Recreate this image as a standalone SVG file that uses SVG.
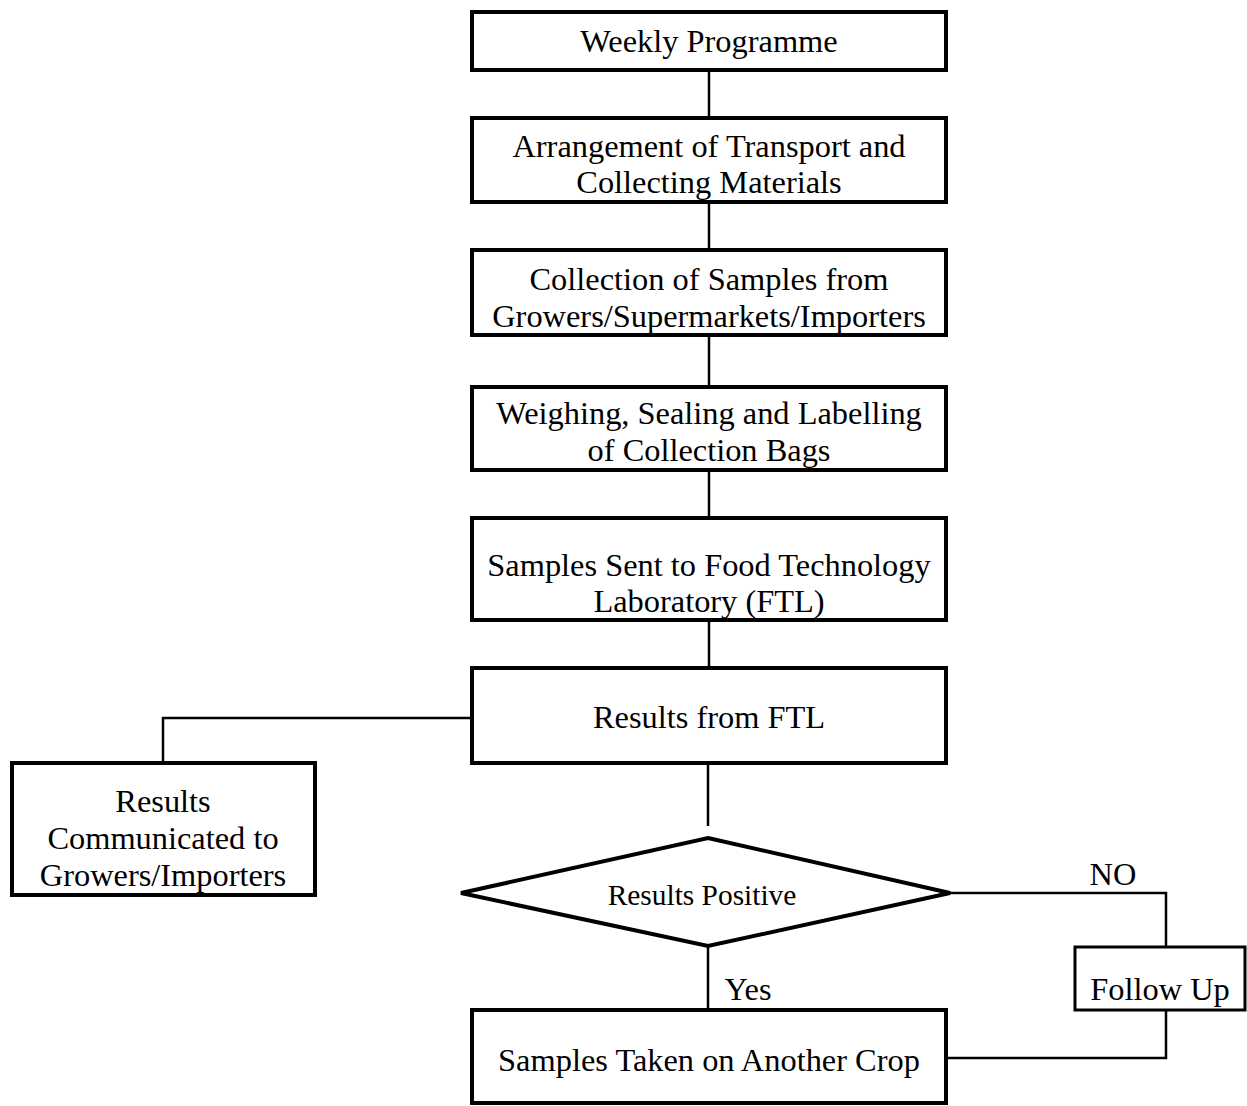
<svg xmlns="http://www.w3.org/2000/svg" width="1247" height="1106" viewBox="0 0 1247 1106">
<style>
.box{fill:#fff;stroke:#000;stroke-width:4}
.thin{fill:#fff;stroke:#000;stroke-width:3}
.con{fill:none;stroke:#000;stroke-width:2.5}
text{font-family:"Liberation Serif","Times New Roman",serif;font-size:32.4px;fill:#000;text-anchor:middle}
.sm{font-size:29.4px}
</style>
<rect width="1247" height="1106" fill="#fff"/>
<g id="connectors">
<line class="con" x1="709" y1="70" x2="709" y2="118"/>
<line class="con" x1="709" y1="202" x2="709" y2="250"/>
<line class="con" x1="709" y1="335" x2="709" y2="387"/>
<line class="con" x1="709" y1="470" x2="709" y2="518"/>
<line class="con" x1="709" y1="620" x2="709" y2="668"/>
<line class="con" x1="708" y1="763" x2="708" y2="826"/>
<polyline class="con" points="472,718 163,718 163,763"/>
<line class="con" x1="708" y1="946" x2="708" y2="1010"/>
<polyline class="con" points="950,893 1166,893 1166,947"/>
<polyline class="con" points="1166,1010 1166,1058 946,1058"/>
<text x="1113" y="885">NO</text>
<text x="748" y="1000">Yes</text>
</g>
<g id="weekly">
<rect class="box" x="472" y="12" width="474" height="58"/>
<text x="709" y="52">Weekly Programme</text>
</g>
<g id="arrangement">
<rect class="box" x="472" y="118" width="474" height="84"/>
<text x="709" y="157">Arrangement of Transport and</text>
<text x="709" y="193">Collecting Materials</text>
</g>
<g id="collection">
<rect class="box" x="472" y="250" width="474" height="85"/>
<text x="709" y="290">Collection of Samples from</text>
<text x="709" y="327">Growers/Supermarkets/Importers</text>
</g>
<g id="weighing">
<rect class="box" x="472" y="387" width="474" height="83"/>
<text x="709" y="424">Weighing, Sealing and Labelling</text>
<text x="709" y="461">of Collection Bags</text>
</g>
<g id="sent">
<rect class="box" x="472" y="518" width="474" height="102"/>
<text x="709" y="576">Samples Sent to Food Technology</text>
<text x="709" y="612">Laboratory (FTL)</text>
</g>
<g id="results">
<rect class="box" x="472" y="668" width="474" height="95"/>
<text x="709" y="728">Results from FTL</text>
</g>
<g id="communicated">
<rect class="box" x="12" y="763" width="303" height="132"/>
<text x="163" y="812">Results</text>
<text x="163" y="849">Communicated to</text>
<text x="163" y="886">Growers/Importers</text>
</g>
<g id="positive">
<polygon class="box" points="708,838 950,893 708,946 461,893"/>
<text class="sm" x="702" y="905">Results Positive</text>
</g>
<g id="followup">
<rect class="thin" x="1075" y="947" width="170" height="63"/>
<text x="1160" y="1000">Follow Up</text>
</g>
<g id="another">
<rect class="box" x="472" y="1010" width="474" height="93"/>
<text x="709" y="1071">Samples Taken on Another Crop</text>
</g>
</svg>
